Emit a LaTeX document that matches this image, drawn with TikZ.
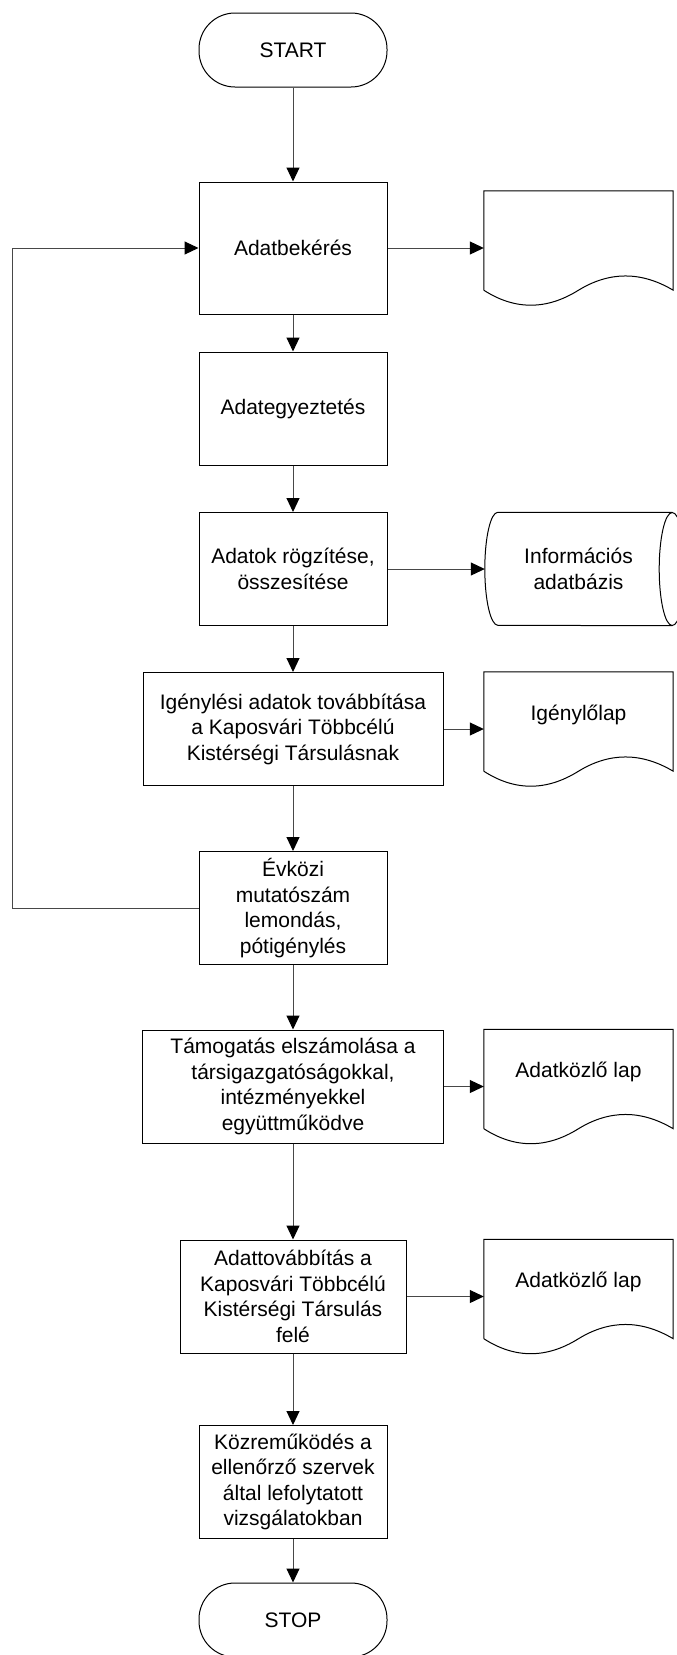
\documentclass[tikz,border=0pt]{standalone}
\usepackage{fontspec}
\setmainfont{Liberation Sans}
\usetikzlibrary{arrows.meta,calc}
\begin{document}
\begin{tikzpicture}[x=1pt,y=-1pt,
  every node/.style={font=\fontsize{21}{25.5}\selectfont, inner sep=0pt, align=center},
  proc/.style={draw, line width=1pt, minimum width=188pt, minimum height=113pt},
  term/.style={draw, line width=1pt, rounded corners=36pt, minimum width=188pt, minimum height=74pt},
  paper/.style={minimum width=189pt, minimum height=114pt},
  outline/.style={draw, line width=1pt},
  flow/.style={draw=black!72, line width=1pt, -{Triangle[length=14pt,width=13pt,color=black]}}
]
\useasboundingbox (0,0) rectangle (677,1655);
\clip (0,0) rectangle (677,1655);

% main column
\node[term] (start) at (293,50) {START};
\node[proc, minimum height=132pt] (b1) at (293,248) {Adatbekérés};
\node[proc] (b2) at (293,408.5) {Adategyeztetés};
\node[proc] (b3) at (293,569) {Adatok rögzítése,\\összesítése};
\node[proc, minimum width=300pt] (b4) at (293,729) {Igénylési adatok továbbítása\\a Kaposvári Többcélú\\Kistérségi Társulásnak};
\node[proc] (b5) at (293,908) {Évközi\\mutatószám\\lemondás,\\pótigénylés};
\node[proc, minimum width=301pt] (b6) at (293,1086.5) {Támogatás elszámolása a\\társigazgatóságokkal,\\intézményekkel\\együttműködve};
\node[proc, minimum width=226pt] (b7) at (293,1296.5) {Adattovábbítás a\\Kaposvári Többcélú\\Kistérségi Társulás\\felé};
\node[proc] (b8) at (293,1482) {Közreműködés a\\ellenőrző szervek\\által lefolytatott\\vizsgálatokban};
\node[term] (stop) at (293,1620) {STOP};

% documents on the right
\node[paper] (d1) at (578.5,248) {};
\node[paper] (d2) at (578.5,729) {};
\node[paper] (d3) at (578.5,1086.5) {};
\node[paper] (d4) at (578.5,1296.5) {};
\node (t2) at ($(d2.north)+(0,43)$) {Igénylőlap};
\node (t3) at ($(d3.north)+(0,43)$) {Adatközlő lap};
\node (t4) at ($(d4.north)+(0,43)$) {Adatközlő lap};

\foreach \d in {d1,d2,d3,d4}{
  \path[outline] ($(\d.south west)+(0,-15)$) -- (\d.north west) -- (\d.north east)
    -- ($(\d.south east)+(0,-15)$)
    .. controls ($(\d.south east)+(-32,-34)$) and ($(\d.south)+(31,-34)$) .. ($(\d.south)+(0,-15)$)
    .. controls ($(\d.south)+(-32,5)$) and ($(\d.south west)+(31,5)$) .. ($(\d.south west)+(0,-15)$);
}

% database cylinder
\node[minimum width=187pt, minimum height=113pt] (db) at (578.5,569) {Információs\\adatbázis};
\path[outline] (db.north east) -- ($(db.north west)+(13,0)$)
  arc[start angle=90, end angle=270, x radius=13pt, y radius=56.5pt] -- (db.south east);
\path[outline] (db.east) ellipse[x radius=13pt, y radius=56.5pt];

% connectors
\draw[flow] (start) -- (b1);
\draw[flow] (b1) -- (b2);
\draw[flow] (b2) -- (b3);
\draw[flow] (b3) -- (b4);
\draw[flow] (b4) -- (b5);
\draw[flow] (b5) -- (b6);
\draw[flow] (b6) -- (b7);
\draw[flow] (b7) -- (b8);
\draw[flow] (b8) -- (stop);

\draw[flow] (b1) -- (d1);
\draw[flow] (b3) -- (db);
\draw[flow] (b4) -- (d2);
\draw[flow] (b6) -- (d3);
\draw[flow] (b7) -- (d4);

% feedback loop
\coordinate (lp) at (12,0);
\draw[flow] (b5.west) -- (b5.west -| lp) -- (b1.west -| lp) -- (b1.west);
\end{tikzpicture}
\end{document}
